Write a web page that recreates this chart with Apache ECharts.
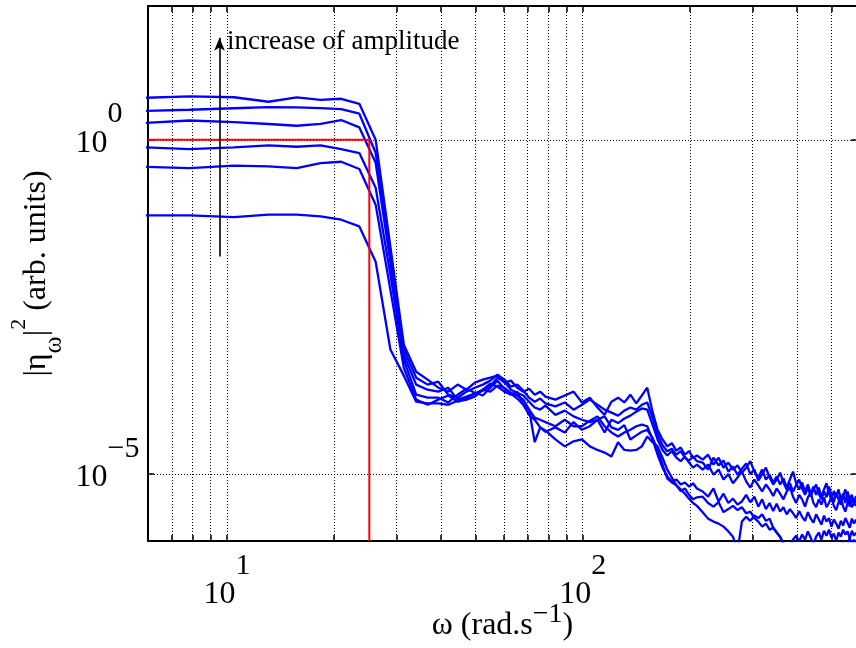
<!DOCTYPE html>
<html><head><meta charset="utf-8">
<script src="https://cdn.jsdelivr.net/npm/echarts@6/dist/echarts.min.js"></script>
<style>html,body{margin:0;padding:0;background:#fff}#c{width:856px;height:648px}</style>
</head><body><div id="c"></div><script>
// angular frequency (rad/s)
const omega = [5.24, 7.85, 10.47, 13.09, 15.71, 18.33, 20.94, 23.56, 26.18, 28.80, 31.42, 34.03, 36.65, 39.27, 41.89, 44.51, 47.12, 49.74, 52.36, 54.98, 57.60, 60.21, 62.83, 65.45, 68.07, 70.69, 73.30, 75.92, 78.54,
  83.78, 89.01, 94.25, 99.48, 104.7, 110.0, 115.2, 120.4, 125.7, 130.9, 136.1, 141.4, 146.6, 151.8, 157.1, 162.3, 167.6, 172.8, 178.0, 183.3, 188.5, 193.7, 199.0, 204.2, 209.4,
  217.3, 225.1, 233.0, 240.9, 248.7, 256.6, 264.4, 272.3, 280.1, 288.0, 295.8, 303.7, 311.5, 319.4, 327.2, 335.1, 343.0, 350.8, 358.7, 366.5, 374.4, 382.2, 390.1, 397.9, 405.8, 413.6, 421.5, 429.4, 437.2, 445.1, 452.9, 460.8, 468.6, 476.5, 484.3, 492.2, 500.0, 507.9, 515.7, 523.6, 531.5, 539.3, 547.2, 555.0, 562.9, 570.7, 578.6, 586.4];

// |eta_omega|^2, from largest to smallest forcing amplitude
const ampA = [4.17, 4.44, 4.32, 3.70, 4.29, 3.96, 4.10, 3.45, 1.0, 0.0252, 8.6e-4, 3.4e-4, 2.59e-4,
  1.96e-4, 1.71e-4, 2.18e-4, 1.83e-4, 2.33e-4, 2.59e-4, 2.77e-4, 2.97e-4, 2.33e-4, 2.5e-4, 1.96e-4, 1.71e-4, 1.89e-4, 1.54e-4, 1.71e-4, 1.44e-4,
  1.3e-4, 1.5e-4, 1.71e-4, 1.18e-4, 1.39e-4, 9.9e-5, 7.7e-5, 1.21e-4, 1.39e-4, 1.18e-4, 1.54e-4, 1.14e-4, 1.5e-4, 1.96e-4, 8.6e-5, 4.6e-5, 3.3e-5, 2.6e-5, 2.9e-5, 2.25e-5, 2.5e-5, 1.95e-5, 2.2e-5, 1.76e-5, 1.9e-5,
  1.65e-5, 1.95e-5, 1.39e-5, 1.76e-5, 1.25e-5, 1.49e-5, 1.17e-5, 1.35e-5, 1.05e-5, 1.25e-5, 1.56e-5, 1.09e-5, 8.9e-6, 1.17e-5, 8.3e-6, 9.8e-6, 7.5e-6, 9.2e-6, 7.0e-6, 8.6e-6, 6.3e-6, 8.3e-6, 1.09e-5, 7.3e-6, 5.9e-6, 7.5e-6, 5.5e-6, 7.0e-6, 5.1e-6, 6.5e-6, 4.9e-6, 6.3e-6, 4.5e-6, 5.9e-6, 7.3e-6, 5.1e-6, 4.2e-6, 5.6e-6, 4.5e-6, 5.9e-6, 4.2e-6, 5.1e-6, 3.7e-6, 5.5e-6, 4.2e-6, 4.9e-6, 3.7e-6, 4.7e-6];
const ampB = [2.67, 2.81, 2.96, 3.08, 3.04, 2.98, 2.88, 2.45, 0.639, 0.0191, 7.3e-4, 2.77e-4, 2.18e-4,
  2.41e-4, 1.54e-4, 1.39e-4, 1.71e-4, 1.96e-4, 2.18e-4, 2.5e-4, 3.07e-4, 2.59e-4, 2.03e-4, 2.18e-4, 1.77e-4, 1.39e-4, 1.21e-4, 1.35e-4, 1.14e-4,
  1.03e-4, 1.18e-4, 9.2e-5, 1.09e-4, 1.3e-4, 1.09e-4, 9.2e-5, 8.3e-5, 7.5e-5, 8.9e-5, 9.9e-5, 9.2e-5, 1.09e-4, 1.18e-4, 7.0e-5, 3.9e-5, 2.7e-5, 2.2e-5, 2.4e-5, 1.95e-5, 2.2e-5, 1.76e-5, 1.6e-5, 1.83e-5, 1.56e-5,
  1.49e-5, 1.17e-5, 1.76e-5, 1.35e-5, 1.6e-5, 1.09e-5, 1.3e-5, 9.8e-6, 1.2e-5, 1.45e-5, 1.0e-5, 1.17e-5, 8.0e-6, 1.0e-5, 1.25e-5, 8.9e-6, 7.0e-6, 8.3e-6, 1.05e-5, 7.5e-6, 5.9e-6, 7.3e-6, 5.5e-6, 6.8e-6, 8.3e-6, 6.1e-6, 4.9e-6, 6.3e-6, 4.6e-6, 5.9e-6, 7.0e-6, 5.1e-6, 4.2e-6, 5.5e-6, 4.5e-6, 6.5e-6, 4.9e-6, 3.8e-6, 5.3e-6, 4.2e-6, 3.5e-6, 4.7e-6, 5.9e-6, 4.2e-6, 3.27e-6, 4.5e-6, 3.6e-6, 4.2e-6];
const ampC = [1.73, 1.94, 1.84, 1.72, 1.62, 1.73, 1.97, 1.53, 0.453, 0.015, 6.1e-4, 2.18e-4, 1.83e-4,
  1.71e-4, 1.96e-4, 1.3e-4, 1.44e-4, 1.6e-4, 1.77e-4, 2.1e-4, 2.77e-4, 2.41e-4, 1.83e-4, 1.65e-4, 1.5e-4, 1.21e-4, 9.9e-5, 9.2e-5, 1.06e-4,
  7.7e-5, 8.9e-5, 7.3e-5, 6.5e-5, 6.0e-5, 6.5e-5, 4.2e-5, 6.5e-5, 5.8e-5, 6.8e-5, 7.5e-5, 8.6e-5, 9.6e-5, 9.2e-5, 5.5e-5, 3.3e-5, 2.3e-5, 1.9e-5, 2.2e-5, 1.76e-5, 1.56e-5, 1.83e-5, 1.49e-5, 1.25e-5, 1.39e-5,
  1.17e-5, 1.39e-5, 9.8e-6, 1.17e-5, 8.3e-6, 1.0e-5, 7.3e-6, 8.9e-6, 1.09e-5, 7.8e-6, 6.3e-6, 8.3e-6, 6.8e-6, 5.5e-6, 7.0e-6, 5.9e-6, 4.7e-6, 6.1e-6, 5.1e-6, 4.2e-6, 5.5e-6, 6.3e-6, 4.6e-6, 3.7e-6, 4.9e-6, 4.2e-6, 3.27e-6, 4.5e-6, 5.3e-6, 3.7e-6, 3.2e-6, 4.2e-6, 3.5e-6, 4.5e-6, 3.2e-6, 3.7e-6, 4.6e-6, 3.35e-6, 2.9e-6, 3.8e-6, 4.6e-6, 3.27e-6, 2.75e-6, 3.7e-6, 4.3e-6, 3.2e-6, 3.7e-6, 3.35e-6];
const ampD = [0.786, 0.726, 0.767, 0.822, 0.786, 0.822, 0.726, 0.633, 0.192, 9.6e-3, 5.1e-4, 1.54e-4, 1.39e-4,
  1.39e-4, 1.18e-4, 1.54e-4, 1.89e-4, 1.65e-4, 1.5e-4, 1.96e-4, 2.5e-4, 1.89e-4, 1.65e-4, 1.5e-4, 1.3e-4, 9.2e-5, 7.0e-5, 6.5e-5, 6.0e-5,
  5.2e-5, 6.5e-5, 5.2e-5, 5.2e-5, 6.3e-5, 7.3e-5, 5.2e-5, 4.2e-5, 3.65e-5, 4.2e-5, 4.6e-5, 5.2e-5, 5.5e-5, 5.2e-5, 3.3e-5, 1.95e-5, 1.25e-5, 9.2e-6, 7.8e-6, 8.3e-6, 7.0e-6, 7.5e-6, 6.5e-6, 7.3e-6, 6.1e-6,
  5.5e-6, 4.6e-6, 6.1e-6, 3.9e-6, 5.1e-6, 3.7e-6, 4.3e-6, 3.5e-6, 3.9e-6, 4.9e-6, 3.8e-6, 4.6e-6, 3.27e-6, 4.2e-6, 3.0e-6, 3.7e-6, 2.8e-6, 3.6e-6, 2.75e-6, 3.2e-6, 2.5e-6, 3.0e-6, 2.6e-6, 2.2e-6, 2.8e-6, 2.3e-6, 2.0e-6, 2.7e-6, 2.16e-6, 1.88e-6, 2.5e-6, 2.1e-6, 1.76e-6, 2.4e-6, 1.95e-6, 2.2e-6, 1.64e-6, 2.1e-6, 1.82e-6, 1.53e-6, 2.0e-6, 1.7e-6, 2.2e-6, 1.88e-6, 1.58e-6, 2.16e-6, 1.82e-6, 2.1e-6];
const ampE = [0.402, 0.377, 0.409, 0.399, 0.377, 0.448, 0.469, 0.365, 0.107, 5.7e-3, 3.9e-4, 1.3e-4, 1.09e-4,
  1.3e-4, 1.5e-4, 1.21e-4, 1.3e-4, 1.44e-4, 1.83e-4, 2.25e-4, 2.03e-4, 1.71e-4, 1.54e-4, 1.71e-4, 1.09e-4, 9.2e-5, 3.0e-5, 5.0e-5, 4.3e-5,
  5.0e-5, 4.2e-5, 6.0e-5, 4.6e-5, 5.2e-5, 6.5e-5, 7.3e-5, 5.0e-5, 4.6e-5, 5.4e-5, 3.3e-5, 3.8e-5, 4.3e-5, 4.6e-5, 3.5e-5, 2.3e-5, 1.39e-5, 8.6e-6, 7.5e-6, 6.8e-6, 5.6e-6, 6.1e-6, 4.9e-6, 4.2e-6, 4.5e-6,
  4.6e-6, 3.7e-6, 3.27e-6, 3.8e-6, 2.7e-6, 3.0e-6, 3.35e-6, 2.9e-6, 3.2e-6, 2.6e-6, 2.75e-6, 2.2e-6, 1.95e-6, 1.64e-6, 1.82e-6, 1.48e-6, 1.58e-6, 1.34e-6, 1.16e-6, 8.8e-7, 7.0e-7, 8.5e-7, 1.05e-6, 1.2e-6, 9.8e-7, 1.25e-6, 1.05e-6, 1.39e-6, 1.12e-6, 8.8e-7, 1.16e-6, 1.34e-6, 1.05e-6, 1.42e-6, 1.2e-6, 1.48e-6, 1.12e-6, 1.29e-6, 1.0e-6, 1.34e-6, 1.16e-6, 1.48e-6, 1.25e-6, 1.39e-6, 1.09e-6, 1.42e-6, 1.2e-6, 1.34e-6];
const ampF = [0.0739, 0.0739, 0.0699, 0.0757, 0.0757, 0.0714, 0.0637, 0.0506, 0.015, 7.3e-4, 2.97e-4, 1.21e-4, 1.14e-4,
  1.14e-4, 1.09e-4, 1.25e-4, 1.39e-4, 1.6e-4, 1.83e-4, 1.71e-4, 2.1e-4, 1.96e-4, 1.6e-4, 1.35e-4, 1.09e-4, 7.7e-5, 6.5e-5, 5.0e-5, 4.5e-5,
  3.3e-5, 2.6e-5, 3.1e-5, 3.3e-5, 2.6e-5, 2.3e-5, 2.1e-5, 1.83e-5, 3.0e-5, 2.3e-5, 2.25e-5, 2.3e-5, 2.6e-5, 3.65e-5, 3.0e-5, 2.6e-5, 1.76e-5, 1.17e-5, 8.9e-6, 6.8e-6, 5.9e-6, 5.1e-6, 4.3e-6, 3.7e-6, 3.35e-6,
  2.7e-6, 2.16e-6, 1.95e-6, 1.82e-6, 1.64e-6, 1.39e-6, 1.16e-6, 7.0e-7, 1.95e-6, 2.3e-6, 2.0e-6, 2.4e-6, 2.2e-6, 2.5e-6, 2.0e-6, 2.16e-6, 1.58e-6, 1.34e-6, 1.16e-6, 9.3e-7, 7.4e-7, 6.05e-7, 7.0e-7, 5.3e-7, 6.2e-7, 4.9e-7, 5.8e-7, 4.4e-7, 5.6e-7, 4.3e-7, 5.3e-7, 4.0e-7, 6.05e-7, 8.0e-7, 6.2e-7, 5.3e-7, 7.0e-7, 8.8e-7, 7.0e-7, 5.6e-7, 8.0e-7, 1.0e-6, 7.4e-7, 9.0e-7, 1.12e-6, 8.5e-7, 1.05e-6, 8.2e-7];

// red cut-off guide
const cutoffOmega = [6, 25.13, 25.13];
const cutoffLevel = [1, 1, 1e-6];
// annotation arrow
const arrowOmega = 9.53;
const arrowLevels = [0.018, 33.5];
const annotationText = 'increase of amplitude';

// axis ticks
const xTickValues = [7, 8, 9, 10, 20, 30, 40, 50, 60, 70, 80, 90, 100, 200, 300, 400, 500];
const xLabelValues = [10, 100];
const yTickValues = [1e-5, 1];

const FONT = '"Liberation Serif", "Times New Roman", serif';
const expLabel = v => {
  const e = Math.round(Math.log10(v));
  return '{b|10}{s|' + (e < 0 ? '\u2212' + (-e) : String(e)) + '}';
};
const labelRich = {
  b: { fontSize: 32, fontFamily: FONT, color: '#000', verticalAlign: 'bottom' },
  s: { fontSize: 30, fontFamily: FONT, color: '#000', verticalAlign: 'bottom', padding: [0, 0, 30, 0] }
};
const gridLine = { show: true, lineStyle: { color: '#000', width: 1, type: [1, 2] } };
const tickStyle = { color: '#000', width: 1.5 };

const chart = echarts.init(document.getElementById('c'), null, { renderer: 'canvas' });
const curves = [ampA, ampB, ampC, ampD, ampE, ampF];
const series = curves.map((a, i) => ({
  type: 'line', name: 'curve' + (i + 1),
  data: omega.map((w, j) => [w, a[j]]),
  symbol: 'none', showSymbol: false, clip: true,
  lineStyle: { color: '#0000ff', width: 2.3 }, itemStyle: { color: '#0000ff' },
  z: 3
}));
series.push({
  type: 'line', name: 'cutoff',
  data: cutoffOmega.map((w, i) => [w, cutoffLevel[i]]),
  symbol: 'none', showSymbol: false, clip: true,
  lineStyle: { color: '#ff0000', width: 2 }, itemStyle: { color: '#ff0000' },
  z: 4
});
series.push({
  type: 'line', name: 'arrow', data: [], symbol: 'none', z: 5,
  markLine: {
    silent: true, animation: false,
    symbol: ['none', 'arrow'], symbolSize: [8, 13],
    label: { show: false },
    lineStyle: { color: '#000', width: 1.6, type: 'solid' },
    data: [[{ coord: [arrowOmega, arrowLevels[0]] }, { coord: [arrowOmega, arrowLevels[1]] }]]
  }
});

chart.setOption({
  animation: false,
  backgroundColor: '#fff',
  textStyle: { fontFamily: FONT },
  grid: { left: 148, top: 6, width: 709, height: 535, containLabel: false, outerBoundsMode: 'none' },
  xAxis: [{
    type: 'log', logBase: 10, min: 6, max: 590, position: 'bottom',
    name: '{m|\u03c9 (rad.s}{sup|\u22121}{m|)}',
    nameLocation: 'middle', nameGap: 60, nameMoveOverlap: false,
    nameTextStyle: {
      align: 'center', verticalAlign: 'top',
      rich: {
        m: { fontSize: 32, fontFamily: FONT, color: '#000', verticalAlign: 'top', padding: [9, 0, 0, 0] },
        sup: { fontSize: 28, fontFamily: FONT, color: '#000', verticalAlign: 'top' }
      }
    },
    axisLine: { show: true, onZero: false, lineStyle: { color: '#000', width: 2 } },
    axisTick: { show: true, inside: true, length: 6, lineStyle: tickStyle, customValues: xTickValues },
    minorTick: { show: false },
    splitLine: gridLine,
    axisLabel: { show: true, customValues: xLabelValues, margin: 10, formatter: expLabel, rich: labelRich }
  }, {
    type: 'log', logBase: 10, min: 6, max: 590, position: 'top',
    axisLine: { show: true, onZero: false, lineStyle: { color: '#000', width: 2 } },
    axisTick: { show: true, inside: true, length: 6, lineStyle: tickStyle, customValues: xTickValues },
    splitLine: { show: false },
    axisLabel: { show: false }
  }],
  yAxis: [{
    type: 'log', logBase: 10, min: 1e-6, max: 100, position: 'left',
    name: '{m||\u03b7}{sub|\u03c9}{m||}{sup|2}{m| (arb. units)}',
    nameLocation: 'middle', nameRotate: 90, nameGap: 80.5, nameMoveOverlap: false,
    nameTextStyle: {
      align: 'center', verticalAlign: 'bottom',
      rich: {
        m: { fontSize: 32, fontFamily: FONT, color: '#000', verticalAlign: 'top', padding: [14, 0, 0, 0] },
        sub: { fontSize: 26, fontFamily: FONT, color: '#000', verticalAlign: 'top', padding: [35, 0, 0, 0] },
        sup: { fontSize: 22, fontFamily: FONT, color: '#000', verticalAlign: 'top', padding: [2, 0, 0, 0] }
      }
    },
    axisLine: { show: true, onZero: false, lineStyle: { color: '#000', width: 2 } },
    axisTick: { show: true, inside: true, length: 6, lineStyle: tickStyle, customValues: yTickValues },
    splitLine: gridLine,
    axisLabel: { show: true, customValues: yTickValues, margin: 72.5, align: 'left', padding: [0, 0, 21, 0], formatter: expLabel, rich: labelRich }
  }, {
    type: 'log', logBase: 10, min: 1e-6, max: 100, position: 'right',
    axisLine: { show: true, onZero: false, lineStyle: { color: '#000', width: 2 } },
    axisTick: { show: true, inside: true, length: 6, lineStyle: tickStyle, customValues: yTickValues },
    splitLine: { show: false },
    axisLabel: { show: false }
  }],
  graphic: [{
    type: 'text', left: 227, top: 28, z: 10,
    style: { text: annotationText, font: '27px ' + FONT, fill: '#000' }
  }],
  series: series
});
</script></body></html>
